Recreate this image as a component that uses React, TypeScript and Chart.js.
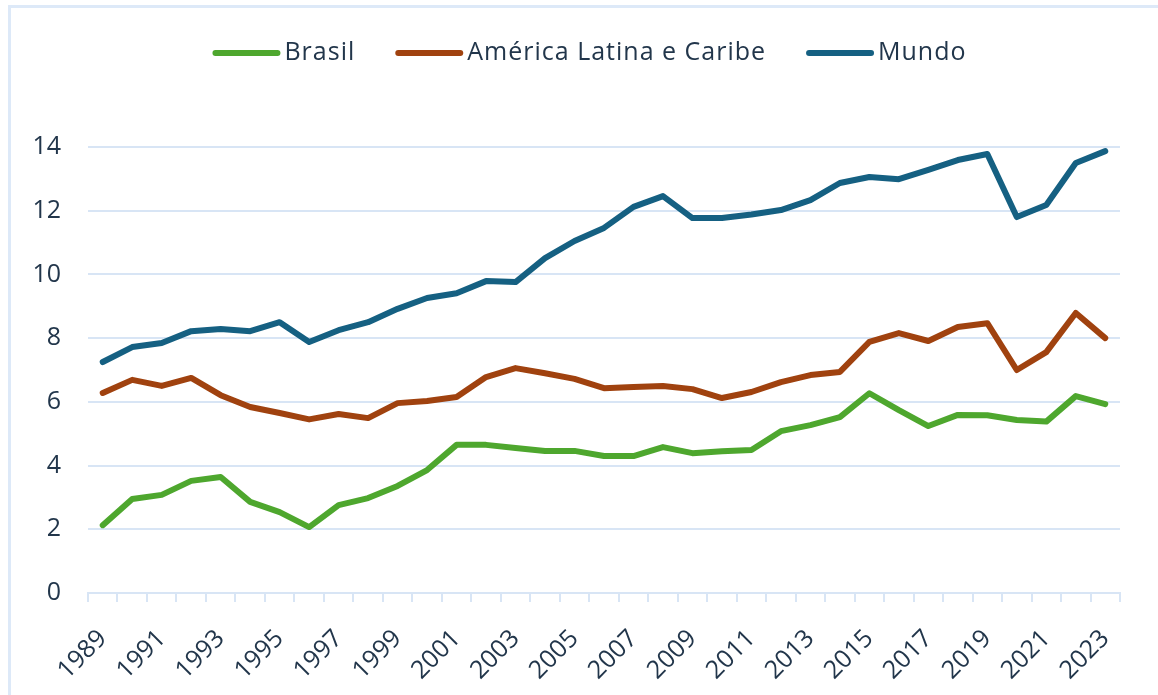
import React, { useEffect, useRef } from "react";
import { Chart, registerables } from "chart.js";

Chart.register(...registerables);

const years = [
  "1989", "1990", "1991", "1992", "1993", "1994", "1995", "1996", "1997", "1998",
  "1999", "2000", "2001", "2002", "2003", "2004", "2005", "2006", "2007", "2008",
  "2009", "2010", "2011", "2012", "2013", "2014", "2015", "2016", "2017", "2018",
  "2019", "2020", "2021", "2022", "2023",
];

const brasil = [
  2.13, 2.95, 3.08, 3.52, 3.64, 2.86, 2.54, 2.07, 2.76, 2.98,
  3.36, 3.86, 4.65, 4.65, 4.55, 4.46, 4.46, 4.3, 4.3, 4.58,
  4.39, 4.45, 4.49, 5.08, 5.27, 5.52, 6.27, 5.74, 5.24, 5.59,
  5.58, 5.43, 5.38, 6.18, 5.93,
];

const americaLatina = [
  6.28, 6.69, 6.5, 6.75, 6.21, 5.84, 5.65, 5.45, 5.62, 5.49,
  5.96, 6.03, 6.15, 6.78, 7.06, 6.9, 6.72, 6.43, 6.47, 6.5,
  6.4, 6.12, 6.31, 6.62, 6.84, 6.94, 7.88, 8.16, 7.91, 8.35,
  8.47, 7.0, 7.56, 8.79, 8.0,
];

const mundo = [
  7.25, 7.72, 7.85, 8.22, 8.29, 8.22, 8.5, 7.88, 8.25, 8.5,
  8.92, 9.26, 9.41, 9.79, 9.76, 10.51, 11.05, 11.46, 12.12, 12.46,
  11.77, 11.77, 11.88, 12.02, 12.33, 12.87, 13.06, 12.99, 13.28, 13.59,
  13.78, 11.8, 12.18, 13.5, 13.87,
];

const seriesNames = ["Brasil", "América Latina e Caribe", "Mundo"];
const seriesColors = ["#4ea72e", "#a0420f", "#156082"];
const yTicks = [0, 2, 4, 6, 8, 10, 12, 14];

const FONT = "'Open Sans', 'Noto Sans', sans-serif";
const TEXT = "#22364b";
const GRID = "#d8e5f5";

const legendPlugin = {
  id: "customLegend",
  afterDraw(chart: any) {
    const ctx = chart.ctx as any;
    const items = chart.data.datasets.map((d: any) => ({ label: d.label, color: d.borderColor }));
    ctx.save();
    ctx.font = `25px ${FONT}`;
    ctx.letterSpacing = "1px";
    const lineW = 68;
    const gap = 4;
    const spacing = 40;
    const widths = items.map((it: any) => lineW + gap + ctx.measureText(it.label).width);
    const total = widths.reduce((a: number, b: number) => a + b, 0) + spacing * (items.length - 1);
    let x = 589.5 - total / 2;
    const y = 53;
    items.forEach((it: any, i: number) => {
      ctx.strokeStyle = it.color;
      ctx.lineWidth = 6;
      ctx.lineCap = "round";
      ctx.beginPath();
      ctx.moveTo(x + 3, y);
      ctx.lineTo(x + lineW - 3, y);
      ctx.stroke();
      ctx.fillStyle = TEXT;
      ctx.textBaseline = "middle";
      ctx.textAlign = "left";
      ctx.fillText(it.label, x + lineW + gap, y);
      x += widths[i] + spacing;
    });
    ctx.restore();
  },
};

export default function App() {
  const canvasRef = useRef<HTMLCanvasElement | null>(null);

  useEffect(() => {
    document.body.style.margin = "0";
    document.body.style.overflow = "hidden";
    const canvas = canvasRef.current;
    if (!canvas) return;
    const seriesData = [brasil, americaLatina, mundo];
    const chart = new Chart(canvas, {
      type: "line",
      data: {
        labels: years,
        datasets: seriesNames.map((name, i) => ({
          label: name,
          data: seriesData[i],
          borderColor: seriesColors[i],
          backgroundColor: seriesColors[i],
          borderWidth: 6,
          borderCapStyle: "round",
          borderJoinStyle: "round",
          pointRadius: 0,
          tension: 0,
          fill: false,
        })),
      },
      options: {
        animation: false,
        responsive: false,
        maintainAspectRatio: false,
        layout: { padding: { top: 147, right: 38, left: 0, bottom: 0 } },
        plugins: {
          legend: { display: false },
          tooltip: { enabled: false },
        },
        scales: {
          x: {
            type: "category",
            offset: true,
            ticks: {
              autoSkip: false,
              maxRotation: 45,
              minRotation: 45,
              padding: 22,
              color: TEXT,
              font: { family: FONT, size: 25 },
              callback: (_v: any, i: number) => (i % 2 === 0 ? years[i] : ""),
            },
            grid: {
              drawOnChartArea: false,
              drawTicks: true,
              tickLength: 9,
              color: GRID,
              lineWidth: 2,
              offset: true,
            },
            border: { display: true, color: GRID, width: 2 },
            afterFit: (s: any) => {
              s.height = 102;
            },
          },
          y: {
            min: 0,
            max: 14,
            afterBuildTicks: (s: any) => {
              s.ticks = yTicks.map((v) => ({ value: v }));
            },
            ticks: {
              padding: 27,
              color: TEXT,
              font: { family: FONT, size: 25 },
            },
            grid: { color: GRID, lineWidth: 2, drawTicks: false },
            border: { display: false },
            afterFit: (s: any) => {
              s.width = 88;
            },
          },
        },
      },
      plugins: [legendPlugin],
    });
    return () => chart.destroy();
  }, []);

  return (
    <div style={{ position: "relative", width: 1158, height: 695, background: "#ffffff" }}>
      <div
        style={{
          position: "absolute",
          left: 8,
          top: 5,
          width: 1200,
          height: 720,
          borderTop: "3px solid #dde9f8",
          borderLeft: "3px solid #dde9f8",
        }}
      />
      <canvas
        ref={canvasRef}
        width={1158}
        height={695}
        style={{ position: "absolute", left: 0, top: 0, display: "block" }}
      />
    </div>
  );
}
